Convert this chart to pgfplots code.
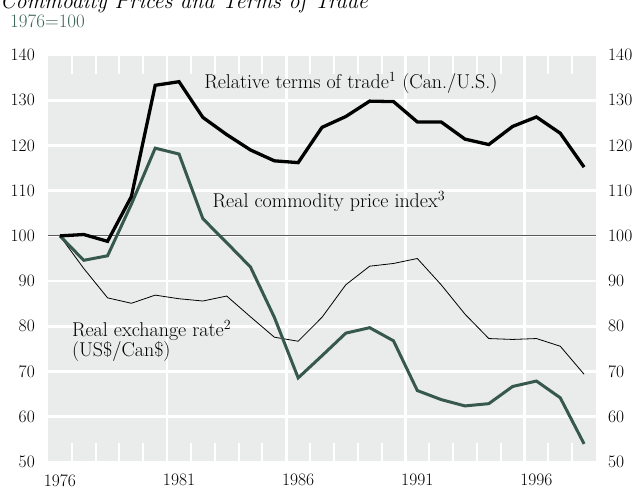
\documentclass[border=0pt]{standalone}
\usepackage{fontspec}
\usepackage{pgfplots}
\usepackage{pgfplotstable}
\pgfplotsset{compat=1.18}
\definecolor{bg}{RGB}{233,236,235}
\definecolor{cgreen}{RGB}{55,88,78}
\definecolor{subgreen}{RGB}{62,104,92}
\definecolor{hundred}{RGB}{90,90,90}
\pgfplotstableread{
year tot com exr
1976.5 100.0 100.0 100.0
1977.5 100.3 94.6 92.8
1978.5 98.8 95.6 86.3
1979.5 108.7 107.0 85.1
1980.5 133.3 119.4 86.9
1981.5 134.1 118.1 86.1
1982.5 126.2 103.8 85.6
1983.5 122.4 98.5 86.7
1984.5 119.0 93.1 82.1
1985.5 116.6 82.0 77.6
1986.5 116.2 68.6 76.7
1987.5 124.0 73.5 82.0
1988.5 126.4 78.5 89.2
1989.5 129.8 79.7 93.3
1990.5 129.7 76.8 93.9
1991.5 125.2 65.8 95.0
1992.5 125.2 63.8 89.2
1993.5 121.4 62.4 82.7
1994.5 120.2 62.9 77.3
1995.5 124.2 66.7 77.1
1996.5 126.3 67.9 77.3
1997.5 122.7 64.2 75.6
1998.5 115.2 54.0 69.4
}\data
\newcommand{\fs}{\fontsize{17.5}{20}\selectfont}
\newcommand{\fl}{\fontsize{20}{20}\selectfont}
\begin{document}
\begin{tikzpicture}
\path[use as bounding box] (0,0) rectangle (637pt,487pt);
\node[anchor=base west, inner sep=0pt, font=\fontsize{22}{26}\selectfont\itshape] at (0pt,478.5pt) {Commodity Prices and Terms of Trade};
\node[anchor=base west, inner sep=0pt, font=\fontsize{19}{22}\selectfont, text=subgreen] at (10pt,459pt) {1976=100};
\begin{axis}[
  at={(48pt,25pt)}, anchor=south west,
  scale only axis, width=548pt, height=407pt,
  xmin=1976, xmax=1999, ymin=50, ymax=140,
  axis background/.style={fill=bg},
  axis line style={draw=none},
  ytick={50,60,...,140},
  ymajorgrids, major grid style={white, line width=2.6pt},
  xtick={1976.5,1981.5,1986.5,1991.5,1996.5},
  xticklabels={1976,1981,1986,1991,1996},
  major tick length=0pt,
  minor xtick={1977,...,1998},
  minor tick length=19pt,
  minor tick style={white, line width=2pt},
  tick align=inside,
  xtick pos=both, xticklabel pos=bottom,
  ytick pos=left,
  extra x ticks={1981,1986,1991,1996},
  extra x tick labels={},
  extra x tick style={grid=major, major grid style={white, line width=2.6pt}},
  extra y ticks={100}, extra y tick labels={},
  extra y tick style={grid=major, major grid style={hundred, line width=1pt}},
  /pgf/number format/assume math mode=true,
  tick label style={font=\fs},
  yticklabel style={anchor=east, inner sep=0pt, xshift=-13pt},
  xticklabel style={anchor=north, inner sep=0pt, yshift=-12pt},
  clip=false,
]
\addplot[black, line width=0.8pt] table[x=year, y=exr] {\data};
\addplot[cgreen, line width=3pt] table[x=year, y=com] {\data};
\addplot[black, line width=3.3pt] table[x=year, y=tot] {\data};
\node[anchor=base west, inner sep=0pt, font=\fl] at (axis cs:1982.55,132.5) {Relative terms of trade\textsuperscript{1} (Can./U.S.)};
\node[anchor=base west, inner sep=0pt, font=\fl] at (axis cs:1982.9,106.2) {Real commodity price index\textsuperscript{3}};
\node[anchor=base west, inner sep=0pt, font=\fl] at (axis cs:1977.0,77.7) {Real exchange rate\textsuperscript{2}};
\node[anchor=base west, inner sep=0pt, font=\fl] at (axis cs:1977.0,73.3) {(US\$/Can\$)};
\end{axis}
\begin{axis}[
  at={(48pt,25pt)}, anchor=south west,
  scale only axis, width=548pt, height=407pt,
  xmin=1976, xmax=1999, ymin=50, ymax=140,
  axis line style={draw=none},
  ytick={50,60,...,140},
  major tick length=0pt,
  xtick=\empty,
  ytick pos=right, yticklabel pos=right,
  /pgf/number format/assume math mode=true,
  tick label style={font=\fs},
  yticklabel style={anchor=west, inner sep=0pt, xshift=12pt},
]
\end{axis}
\end{tikzpicture}
\end{document}
